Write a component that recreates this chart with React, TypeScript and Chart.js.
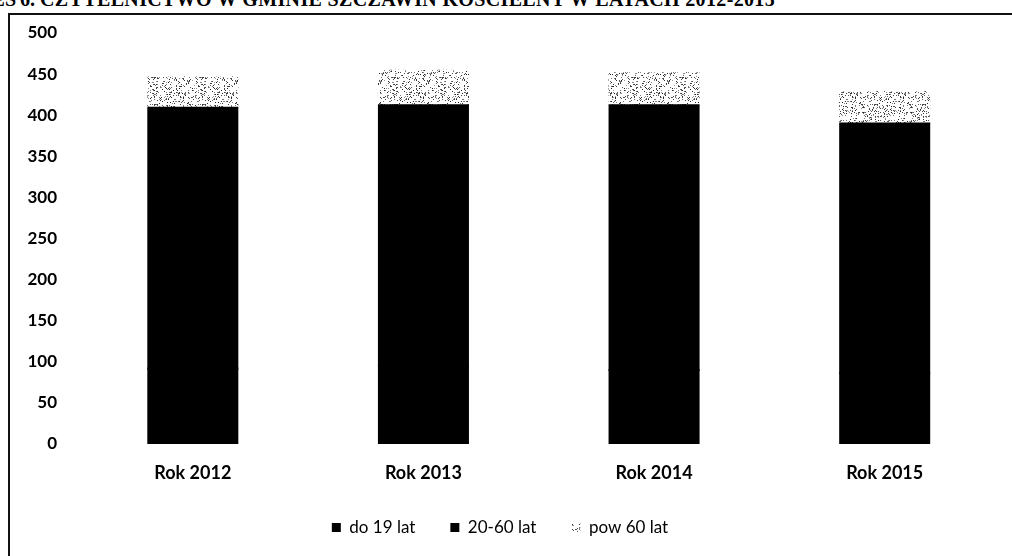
import React, { useEffect, useRef } from "react";
import { Chart, registerables } from "chart.js";

Chart.register(...registerables);

const categories = ["Rok 2012", "Rok 2013", "Rok 2014", "Rok 2015"];
const under19 = [92, 95, 90, 86];
const age20to60 = [317, 317, 322, 304];
const over60 = [37, 42, 39, 38];
const seriesNames = ["do 19 lat", "20-60 lat", "pow 60 lat"];
const yMin = 0;
const yMax = 500;
const yStep = 50;
const titleWord = "WYKRES";
const titleNumber = "6.";
const titleRest = "CZYTELNICTWO W GMINIE SZCZAWIN KOŚCIELNY W LATACH 2012-2015";

function makeStipple(): CanvasPattern | string {
  const c = document.createElement("canvas");
  const n = 48;
  c.width = n;
  c.height = n;
  const ctx = c.getContext("2d");
  if (!ctx) return "#ccc";
  ctx.fillStyle = "#ffffff";
  ctx.fillRect(0, 0, n, n);
  let s = 987654321;
  for (let y = 0; y < n; y++) {
    for (let x = 0; x < n; x++) {
      s = (Math.imul(s, 1103515245) + 12345) >>> 0;
      const r = (s >>> 8) / 16777216;
      if (r < 0.17) {
        const g = 30 + ((s >>> 3) & 0x7f);
        ctx.fillStyle = `rgb(${g},${g},${g})`;
        ctx.fillRect(x, y, 1, 1);
      }
    }
  }
  return ctx.createPattern(c, "repeat") || "#ccc";
}

export default function App() {
  const ref = useRef<HTMLCanvasElement | null>(null);

  useEffect(() => {
    if (!ref.current) return;
    const stipple = makeStipple();
    const chart = new Chart(ref.current, {
      type: "bar",
      data: {
        labels: categories,
        datasets: [
          { label: seriesNames[0], data: under19, backgroundColor: "#000000", borderColor: "#000000", borderWidth: 0, inflateAmount: 1 },
          { label: seriesNames[1], data: age20to60, backgroundColor: "#000000", borderColor: "#000000", borderWidth: 0, inflateAmount: 1 },
          { label: seriesNames[2], data: over60, backgroundColor: stipple as any, borderWidth: 0, inflateAmount: 1 },
        ],
      },
      options: {
        animation: false,
        responsive: false,
        devicePixelRatio: 1,
        datasets: { bar: { categoryPercentage: 1, barPercentage: 0.386 } },
        layout: { padding: { top: 33, left: 0, right: 0, bottom: 10 } },
        plugins: {
          title: { display: false },
          tooltip: { enabled: false },
          legend: {
            position: "bottom",
            labels: {
              boxWidth: 9,
              boxHeight: 9,
              padding: 35,
              color: "#000",
              font: { family: "Lato", size: 17, weight: "normal" },
            },
          },
        },
        scales: {
          x: {
            stacked: true,
            grid: { display: false, drawTicks: false },
            border: { display: false },
            ticks: {
              color: "#000",
              padding: 18,
              font: { family: "Lato", size: 18, weight: "bold", lineHeight: 1.2 },
            },
            afterFit: (scale: any) => {
              scale.height = 40;
            },
          },
          y: {
            stacked: true,
            min: yMin,
            max: yMax,
            grid: { display: false, drawTicks: false },
            border: { display: false },
            ticks: {
              stepSize: yStep,
              color: "#000",
              padding: 20.5,
              font: { family: "Lato", size: 17, weight: "bold" },
            },
            afterFit: (scale: any) => {
              scale.width = 77.5;
            },
          },
        },
      },
    });
    return () => chart.destroy();
  }, []);

  const titleFont: React.CSSProperties = {
    position: "absolute",
    top: -11.5,
    whiteSpace: "nowrap",
    fontFamily: "'Liberation Serif', serif",
    fontWeight: "bold",
    fontSize: 20,
    lineHeight: "20px",
    color: "#000",
  };

  return (
    <div style={{ position: "absolute", left: 0, top: 0, width: 1012, height: 556, overflow: "hidden", background: "#fff" }}>
      <div style={{ ...titleFont, right: 1012 - 16 }}>{titleWord}</div>
      <div style={{ ...titleFont, left: 20 }}>{titleNumber}</div>
      <div style={{ ...titleFont, left: 40, letterSpacing: "0.35px" }}>{titleRest}</div>
      <div
        style={{
          position: "absolute",
          left: 8,
          top: 13,
          width: 1010,
          height: 600,
          borderLeft: "2px solid #111",
          borderTop: "2px solid #111",
        }}
      />
      <canvas ref={ref} width={1000} height={556} style={{ position: "absolute", left: 0, top: 0, width: 1000, height: 556 }} />
    </div>
  );
}
